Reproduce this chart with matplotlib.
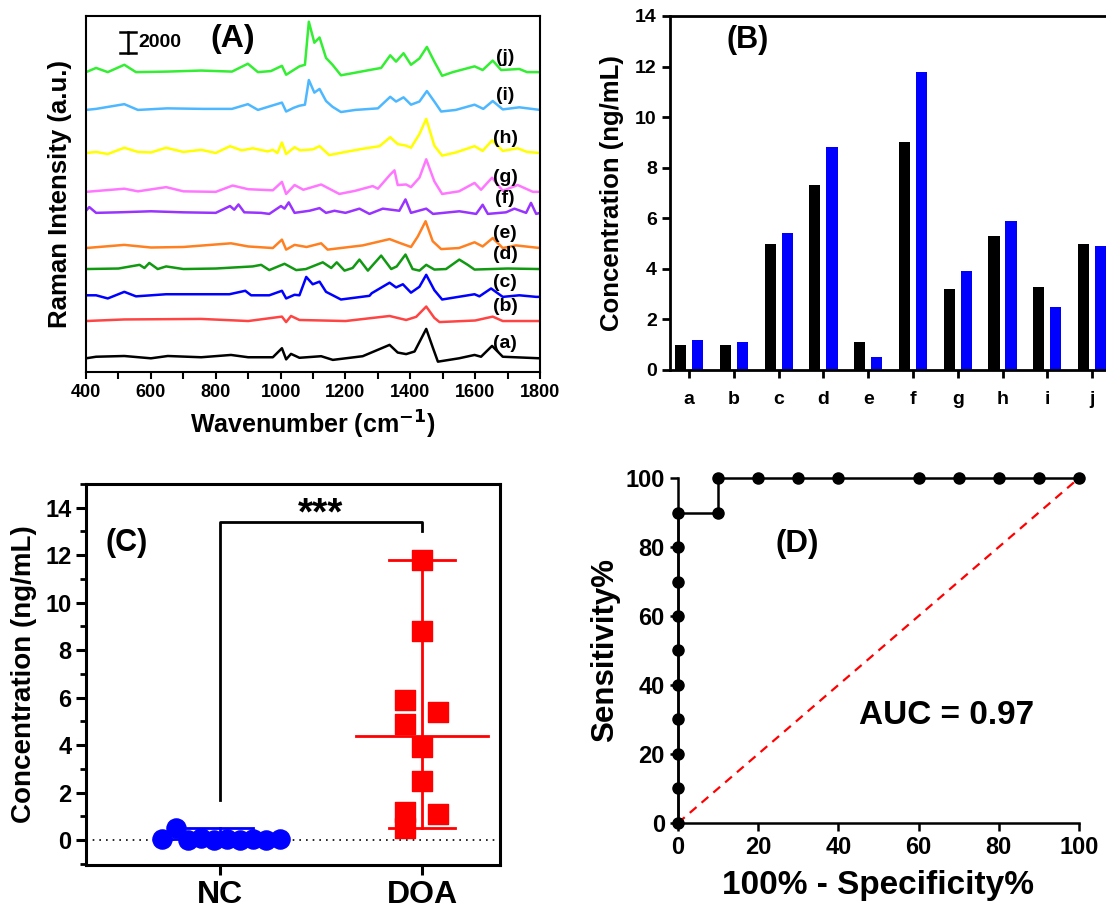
import matplotlib
matplotlib.use('Agg')
import matplotlib.pyplot as plt
from matplotlib.ticker import MultipleLocator

plt.rcParams['font.family'] = ['Liberation Sans', 'DejaVu Sans']
plt.rcParams['font.weight'] = 'bold'
plt.rcParams['axes.labelweight'] = 'bold'
plt.rcParams['mathtext.default'] = 'bf'

# ---------------- data ----------------
# (A) Raman spectra: wavenumber knots and intensity above each baseline
wn_a = [400, 431, 518, 600, 652, 755, 847, 900, 976, 1004, 1017, 1032, 1058, 1125, 1161, 1253, 1336, 1361, 1387,
        1413, 1449, 1470, 1485, 1550, 1598, 1618, 1652, 1685, 1800]
in_a = [0, 150, 220, 0, 220, 100, 320, 100, 100, 960, -100, 420, 50, 200, -150, 200, 1280, 550, 400,
        650, 2800, 960, -320, 0, 320, 150, 1180, 150, 0]
wn_b = [400, 518, 755, 900, 1004, 1017, 1032, 1058, 1200, 1336, 1387, 1418, 1449, 1474, 1490, 1600, 1654, 1685, 1800]
in_b = [0, 150, 200, 0, 420, -100, 480, 100, 0, 480, 100, 400, 1380, 300, -100, 50, 420, 0, 0]
wn_c = [400, 431, 467, 518, 554, 647, 842, 891, 909, 965, 1004, 1017, 1043, 1058, 1079, 1099, 1120, 1140, 1186,
        1274, 1281, 1336, 1356, 1377, 1402, 1428, 1449, 1474, 1498, 1598, 1613, 1649, 1685, 1736, 1788, 1800]
in_c = [150, 150, -150, 480, 50, 250, 250, 580, 150, 150, 580, -150, 200, 150, 1900, 1200, 1450, 480, -250,
        100, 350, 1350, 900, 1200, 400, 960, 2100, 640, -250, 250, 50, 800, 0, 150, 0, 0]
wn_d = [400, 500, 565, 580, 595, 621, 647, 700, 800, 914, 940, 965, 1012, 1048, 1078, 1130, 1156, 1173, 1197,
        1222, 1243, 1269, 1310, 1341, 1358, 1385, 1407, 1428, 1449, 1474, 1510, 1551, 1577, 1598, 1700, 1800]
in_d = [0, 50, 400, 100, 580, 0, 250, 0, 50, 250, 400, -100, 500, -100, 0, 640, 100, 640, -150,
        100, 900, -150, 1280, 0, 250, 1380, 0, -150, 400, -50, 0, 900, 400, -50, 50, 0]
wn_e = [400, 518, 600, 700, 847, 900, 976, 1004, 1017, 1043, 1080, 1125, 1145, 1253, 1336, 1366, 1402, 1423,
        1447, 1469, 1495, 1550, 1598, 1623, 1654, 1685, 1726, 1800]
in_e = [0, 300, 50, 100, 450, 150, 0, 800, -150, 300, 100, 450, -150, 250, 850, 500, 100, 1100,
        2550, 650, -100, 0, 550, 150, 950, 0, 250, 0]
wn_f = [400, 410, 431, 500, 600, 700, 800, 844, 857, 870, 888, 940, 965, 1001, 1012, 1025, 1043, 1089, 1120,
        1140, 1166, 1200, 1243, 1274, 1315, 1366, 1385, 1402, 1449, 1470, 1551, 1603, 1623, 1639, 1695, 1721,
        1757, 1772, 1788, 1800]
in_f = [200, 550, 0, 50, 150, 50, 0, 650, 300, 800, 50, 0, -100, 650, 400, 1000, 0, 200, 450,
        0, 200, 0, 400, -100, 400, 200, 1280, 0, 400, -100, 150, -100, 770, -100, 50, 400,
        0, 950, -100, 0]
wn_g = [400, 518, 560, 647, 700, 800, 852, 900, 976, 1004, 1017, 1043, 1070, 1125, 1181, 1230, 1284, 1300,
        1338, 1351, 1361, 1387, 1402, 1428, 1449, 1474, 1498, 1550, 1598, 1618, 1652, 1685, 1731, 1778, 1800]
in_g = [0, 300, 50, 450, 50, 0, 600, 250, 150, 950, -200, 650, 200, 700, -200, 100, 550, 300,
        1650, 2050, 650, 700, 450, 1350, 3100, 1000, -200, 50, 850, 200, 1350, 100, 650, 0, 0]
wn_h = [400, 431, 467, 518, 560, 600, 647, 700, 755, 800, 844, 880, 914, 960, 976, 990, 1004, 1017, 1043, 1060,
        1100, 1120, 1150, 1200, 1253, 1305, 1338, 1361, 1387, 1402, 1428, 1449, 1474, 1498, 1540, 1598, 1623,
        1652, 1685, 1731, 1760, 1800]
in_h = [0, 100, -100, 500, 100, 50, 500, 100, 300, 0, 650, 250, 450, 150, 300, 0, 1000, -100, 550, 250,
        350, 650, -200, 100, 400, 650, 1500, 850, 700, 500, 1800, 3250, 700, -250, 50, 650, 200,
        1200, 200, 450, 100, 0]
wn_i = [400, 431, 518, 560, 650, 760, 850, 899, 930, 1004, 1017, 1040, 1058, 1075, 1087, 1104, 1120, 1140, 1160,
        1186, 1230, 1300, 1338, 1356, 1379, 1402, 1428, 1451, 1474, 1495, 1540, 1598, 1625, 1654, 1685, 1736, 1800]
in_i = [0, 100, 550, 0, 150, 100, 100, 550, 0, 700, -150, 200, 400, 500, 2850, 1650, 2000, 850, 300,
        -200, 0, 150, 1250, 800, 1200, 500, 800, 1800, 800, -150, 0, 500, 100, 850, 50, 250, 0]
wn_j = [400, 431, 467, 518, 554, 650, 755, 850, 899, 930, 970, 1004, 1017, 1040, 1058, 1075, 1087, 1104, 1120,
        1140, 1160, 1186, 1222, 1274, 1310, 1338, 1356, 1379, 1402, 1428, 1451, 1474, 1498, 1531, 1598, 1623,
        1654, 1680, 1736, 1760, 1800]
in_j = [0, 400, 0, 700, 0, 50, 150, 50, 800, 0, 100, 600, -250, 200, 550, 700, 4800, 2800, 3300,
        1350, 700, -300, -100, 200, 400, 1600, 1000, 1800, 700, 1300, 2400, 1000, -350, 0, 550, 200,
        1100, 200, 300, 0, 0]

spec_labels = ['(a)', '(b)', '(c)', '(d)', '(e)', '(f)', '(g)', '(h)', '(i)', '(j)']
spec_offsets = [1300, 4850, 7150, 9800, 11800, 15150, 17150, 20850, 24950, 28550]
spec_colors = ['black', '#ff4444', '#0000ff', '#119911', '#ff8020', '#9933ff', '#ff77ff', '#ffff00', '#4db8ff', '#33ee33']

# (B) concentrations per sample
samples = ['a', 'b', 'c', 'd', 'e', 'f', 'g', 'h', 'i', 'j']
conc_black = [1.0, 1.0, 5.0, 7.3, 1.1, 9.0, 3.2, 5.3, 3.3, 5.0]
conc_blue = [1.2, 1.1, 5.4, 8.8, 0.5, 11.8, 3.9, 5.9, 2.5, 4.9]

# (C) group scatter
nc_vals = [0.05, 0.5, 0.0, 0.1, 0.0, 0.05, 0.0, 0.05, 0.0, 0.05]
doa_vals = [11.8, 8.8, 5.9, 5.4, 4.9, 3.9, 2.5, 1.2, 1.1, 0.5]
doa_median = 4.4
nc_median = 0.05

# (D) ROC curve
roc_fpr = [0, 0, 0, 0, 0, 0, 0, 0, 0, 0, 10, 10, 20, 30, 40, 60, 70, 80, 90, 100]
roc_tpr = [0, 10, 20, 30, 40, 50, 60, 70, 80, 90, 90, 100, 100, 100, 100, 100, 100, 100, 100, 100]

fig = plt.figure(figsize=(11.06, 9.11), dpi=100)

# ---------------- (A) ----------------
ax = fig.add_axes([0.0778, 0.5917, 0.4105, 0.3908])
wns = [wn_a, wn_b, wn_c, wn_d, wn_e, wn_f, wn_g, wn_h, wn_i, wn_j]
ints = [in_a, in_b, in_c, in_d, in_e, in_f, in_g, in_h, in_i, in_j]
for w, s, off, col, lab in zip(wns, ints, spec_offsets, spec_colors, spec_labels):
    ax.plot(w, [v + off for v in s], color=col, lw=1.8)
    ax.text(1692, off + 1400, lab, fontsize=14, fontweight='bold', ha='center', va='center')
ax.set_xlim(400, 1800)
ax.set_ylim(0, 33900)
ax.set_yticks([])
ax.xaxis.set_major_locator(MultipleLocator(200))
ax.xaxis.set_minor_locator(MultipleLocator(100))
ax.tick_params(axis='x', which='both', direction='out', length=5, width=1.5, labelsize=13)
for sp in ax.spines.values():
    sp.set_linewidth(1.5)
# 2000 scale bar
ax.plot([530, 530], [30380, 32380], color='black', lw=1.8)
ax.plot([505, 555], [30380, 30380], color='black', lw=1.8)
ax.plot([505, 555], [32380, 32380], color='black', lw=1.8)
ax.text(562, 31380, '2000', fontsize=14, fontweight='bold', va='center')
ax.text(852, 31700, '(A)', fontsize=23, fontweight='bold', ha='center', va='center')
ax.set_xlabel('Wavenumber (cm$^{-1}$)', fontsize=18, labelpad=6)
ax.set_ylabel('Raman Intensity (a.u.)', fontsize=18.5, labelpad=10)

# ---------------- (B) ----------------
ax = fig.add_axes([0.6058, 0.5939, 0.3942, 0.3886])
xs = list(range(len(samples)))
ax.bar([x - 0.19 for x in xs], conc_black, width=0.25, color='black')
ax.bar([x + 0.19 for x in xs], conc_blue, width=0.25, color='#0000ff')
ax.set_xlim(-0.425, 9.31)
ax.set_ylim(0, 14)
ax.set_xticks(xs)
ax.set_xticklabels(samples)
ax.set_yticks(range(0, 15, 2))
ax.spines['right'].set_visible(False)
for sp in ['left', 'bottom', 'top']:
    ax.spines[sp].set_linewidth(2)
ax.tick_params(direction='out', length=6, width=2, labelsize=14)
ax.tick_params(axis='x', pad=9)
ax.text(1.3, 13.05, '(B)', fontsize=22, fontweight='bold', ha='center', va='center')
ax.set_ylabel('Concentration (ng/mL)', fontsize=18.5, labelpad=8)

# ---------------- (C) ----------------
ax = fig.add_axes([0.0778, 0.0505, 0.3743, 0.4182])
ax.axhline(0, color='black', lw=1.2, ls=(0, (1, 3)))
nc_jit = [-0.287, -0.22, -0.16, -0.095, -0.03, 0.035, 0.1, 0.165, 0.23, 0.295]
doa_jit = [0, 0, -0.083, 0.08, -0.083, 0, 0, -0.083, 0.08, -0.083]
# blue whiskers
ax.plot([0 - 0.327, 0 + 0.327], [nc_median, nc_median], color='#0000ff', lw=2)
ax.plot([0, 0], [min(nc_vals), max(nc_vals)], color='#0000ff', lw=2)
ax.plot([-0.163, 0.163], [max(nc_vals), max(nc_vals)], color='#0000ff', lw=2)
ax.scatter([0 + j for j in nc_jit], nc_vals, s=190, marker='o', color='#0000ff', zorder=3)
# red whiskers
ax.plot([1 - 0.327, 1 + 0.327], [doa_median, doa_median], color='#ff0000', lw=2)
ax.plot([1, 1], [min(doa_vals), max(doa_vals)], color='#ff0000', lw=2)
ax.plot([1 - 0.163, 1 + 0.163], [max(doa_vals), max(doa_vals)], color='#ff0000', lw=2)
ax.plot([1 - 0.163, 1 + 0.163], [min(doa_vals), min(doa_vals)], color='#ff0000', lw=2)
ax.scatter([1 + j for j in doa_jit], doa_vals, s=190, marker='s', color='#ff0000', zorder=3)
# significance bracket
ax.plot([0, 0, 1, 1], [1.7, 13.4, 13.4, 13.0], color='black', lw=2)
ax.text(0.5, 13.7, '***', fontsize=28, fontweight='bold', ha='center', va='center')
ax.text(-0.46, 12.5, '(C)', fontsize=22, fontweight='bold', ha='center', va='center')
ax.set_xlim(-0.663, 1.386)
ax.set_ylim(-1.05, 15.0)
ax.set_xticks([0, 1])
ax.set_xticklabels(['NC', 'DOA'], fontsize=23)
ax.set_yticks(range(0, 15, 2))
ax.yaxis.set_minor_locator(MultipleLocator(1))
for sp in ax.spines.values():
    sp.set_linewidth(2.2)
ax.tick_params(axis='both', which='major', direction='out', length=7, width=2.2)
ax.tick_params(axis='y', which='minor', direction='out', length=4, width=2)
ax.tick_params(axis='y', labelsize=17)
ax.set_ylabel('Concentration (ng/mL)', fontsize=20, labelpad=6)

# ---------------- (D) ----------------
ax = fig.add_axes([0.613, 0.0966, 0.3626, 0.3787])
ax.plot([0, 100], [0, 100], color='#ff0000', lw=1.6, ls=(0, (4, 3)))
ax.plot(roc_fpr, roc_tpr, color='black', lw=1.8, marker='o', ms=8, clip_on=False, zorder=3)
ax.set_xlim(0, 100)
ax.set_ylim(0, 100)
ax.set_xticks(range(0, 101, 20))
ax.set_yticks(range(0, 101, 20))
ax.spines['right'].set_visible(False)
ax.spines['top'].set_visible(False)
for sp in ['left', 'bottom']:
    ax.spines[sp].set_linewidth(1.8)
ax.tick_params(direction='out', length=6, width=1.8, labelsize=17)
ax.text(29.7, 81, '(D)', fontsize=22.5, fontweight='bold', ha='center', va='center')
ax.text(67, 31.3, 'AUC = 0.97', fontsize=24, fontweight='bold', ha='center', va='center')
ax.set_xlabel('100% - Specificity%', fontsize=24, labelpad=8)
ax.set_ylabel('Sensitivity%', fontsize=22.5, labelpad=4)

fig.savefig('out.png', dpi=100)
